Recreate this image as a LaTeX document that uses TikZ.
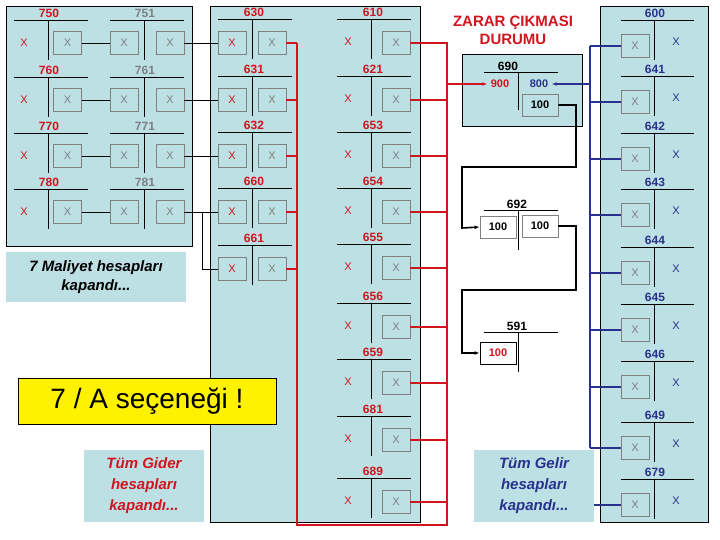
\documentclass[tikz,border=0pt]{standalone}
\usepackage{fontspec}
\setmainfont{Liberation Sans}
\usetikzlibrary{arrows.meta}
\definecolor{bgc}{RGB}{188,224,228}
\definecolor{rc}{RGB}{210,20,30}
\definecolor{bc}{RGB}{40,50,140}
\definecolor{gc}{RGB}{128,128,128}
\begin{document}
\begin{tikzpicture}[x=1pt,y=-1pt,
 tl/.style={black,line width=0.8pt},
 lab/.style={font=\bfseries\fontsize{12}{12}\selectfont,inner sep=0pt},
 bx/.style={draw=gc,line width=0.7pt,minimum width=28,minimum height=23,inner sep=0pt,font=\fontsize{11}{11}\selectfont,text=gc},
 xp/.style={inner sep=0pt,font=\fontsize{11}{11}\selectfont},
 rl/.style={rc,line width=1.2pt},
 bl/.style={bc,line width=1.6pt},
 kl/.style={black,line width=1.6pt},
 nb/.style={draw=gc,line width=0.7pt,fill=white,minimum width=36,minimum height=22,inner sep=0pt,font=\bfseries\fontsize{11}{11}\selectfont}]
\useasboundingbox (0,0) rectangle (720,540);
% panels
\draw[fill=bgc,line width=0.8pt] (6,6) rectangle (192,246);
\draw[fill=bgc,line width=0.8pt] (210,6) rectangle (420,522);
\draw[fill=bgc,line width=0.8pt] (600,6) rectangle (708,522);
\draw[fill=bgc,line width=0.8pt] (462,54) rectangle (582,126);
% left block
\foreach \i/\n/\m/\y in {1/750/751/20,2/760/761/77,3/770/771/133,4/780/781/189}{
 \draw[tl] (14,\y) -- (88,\y); \draw[tl] (48,\y) -- (48,\y+40);
 \node[lab,text=rc] at (49,\y-7) {\n};
 \node[xp,text=rc] at (24,\y+23) {X};
 \node[bx] (la\i) at (67.5,\y+23) {X};
 \draw[tl] (110,\y) -- (184,\y); \draw[tl] (144,\y) -- (144,\y+40);
 \node[lab,text=gc] at (145,\y-7) {\m};
 \node[bx] (lb\i) at (124,\y+23) {X};
 \node[bx] (lc\i) at (170,\y+23) {X};
 \draw[tl] (la\i) -- (lb\i);
}
% column A
\foreach \i/\n/\y in {1/630/19,2/631/76,3/632/132,4/660/188,5/661/245}{
 \draw[tl] (218,\y) -- (292,\y); \draw[tl] (252,\y) -- (252,\y+40);
 \node[lab,text=rc] at (254,\y-7) {\n};
 \node[bx,text=rc] (ma\i) at (232,\y+24) {X};
 \node[bx] (mb\i) at (272,\y+24) {X};
 \draw[rl] (mb\i.east) -- (297,\y+24);
}
\foreach \i in {1,...,4}{\draw[tl] (lc\i) -- (ma\i);}
\draw[tl] (lc4.east) -- (202,212) |- (ma5.west);
% column B
\foreach \i/\n/\y in {1/610/19,2/621/76,3/653/132,4/654/188,5/655/244,6/656/303,7/659/359,8/681/416,9/689/478}{
 \draw[tl] (337,\y) -- (411,\y); \draw[tl] (371,\y) -- (371,\y+40);
 \node[lab,text=rc] at (373,\y-7) {\n};
 \node[xp,text=rc] at (348,\y+23) {X};
 \node[bx] (mc\i) at (396,\y+24) {X};
 \draw[rl] (mc\i.east) -- (447,\y+24);
}
\draw[rl] (297,43) -- (297,525) -- (447,525) -- (447,42);
% title
\node[font=\bfseries\fontsize{15}{18}\selectfont,text=rc,align=center] (title) at (513,30) {ZARAR ÇIKMASI\\DURUMU};
% 690
\node[lab,text=black] at (508,66) {690};
\draw[tl] (484,72) -- (558,72); \draw[tl] (518,72) -- (518,110);
\node[font=\bfseries\fontsize{11}{11}\selectfont,text=rc] (n900) at (500,84) {900};
\node[font=\bfseries\fontsize{11}{11}\selectfont,text=bc] (n800) at (539,84) {800};
\node[nb,fill=bgc] (b100) at (540,105) {100};
\draw[rl,-{Latex[length=5pt]}] (447,84) -- (n900.west);
% 692
\node[lab,text=black] at (517,204) {692};
\draw[tl] (484,210) -- (558,210); \draw[tl] (518,210) -- (518,250);
\node[nb] (l692) at (498,227) {100};
\node[nb] (r692) at (540,226) {100};
% 591
\node[lab,text=black] at (517,326) {591};
\draw[tl] (484,332) -- (558,332); \draw[tl] (518,332) -- (518,372);
\node[nb,draw=black,text=rc] (n591) at (498,353) {100};
\draw[kl,-{Latex[length=5pt]}] (b100.east) -| (576,167) -| (462,228) -- (l692.west);
\draw[kl,-{Latex[length=5pt]}] (r692.east) -| (576,290) -| (462,353) -- (n591.west);
% right column
\foreach \i/\n/\y in {1/600/20,2/641/76,3/642/133,4/643/189,5/644/247,6/645/304,7/646/361,8/649/422,9/679/479}{
 \draw[tl] (621,\y) -- (694,\y); \draw[tl] (654,\y) -- (654,\y+40);
 \node[lab,text=bc] at (655,\y-7) {\n};
 \node[bx] (rb\i) at (635,\y+26) {X};
 \node[xp,text=bc] at (676,\y+22) {X};
}
\foreach \i in {1,...,8}{\draw[bl] (590,0 |- rb\i.west) -- (rb\i.west);}
\draw[bl] (590,46) -- (590,448);
\draw[bl,-{Latex[length=5pt]}] (590,84) -- (n800.east);
% text boxes
\node[fill=bgc,minimum width=180,minimum height=50,align=center,font=\bfseries\itshape\fontsize{15}{19}\selectfont] (t7) at (96,277) {7 Maliyet hesapları\\kapandı...};
\node[fill=yellow,draw=black,line width=0.8pt,minimum width=258,minimum height=46,font=\fontsize{28}{28}\selectfont] (ta) at (147,401) {7 / A seçeneği !};
\node[fill=bgc,minimum width=120,minimum height=72,align=center,text=rc,font=\bfseries\itshape\fontsize{15}{21}\selectfont] (tg) at (144,486) {Tüm Gider\\hesapları\\kapandı...};
\node[fill=bgc,minimum width=120,minimum height=72,align=center,text=bc,font=\bfseries\itshape\fontsize{15}{21}\selectfont] (tl2) at (534,486) {Tüm Gelir\\hesapları\\kapandı...};
\draw[bl] (tl2.east |- rb9.west) -- (rb9.west);
\end{tikzpicture}
\end{document}
